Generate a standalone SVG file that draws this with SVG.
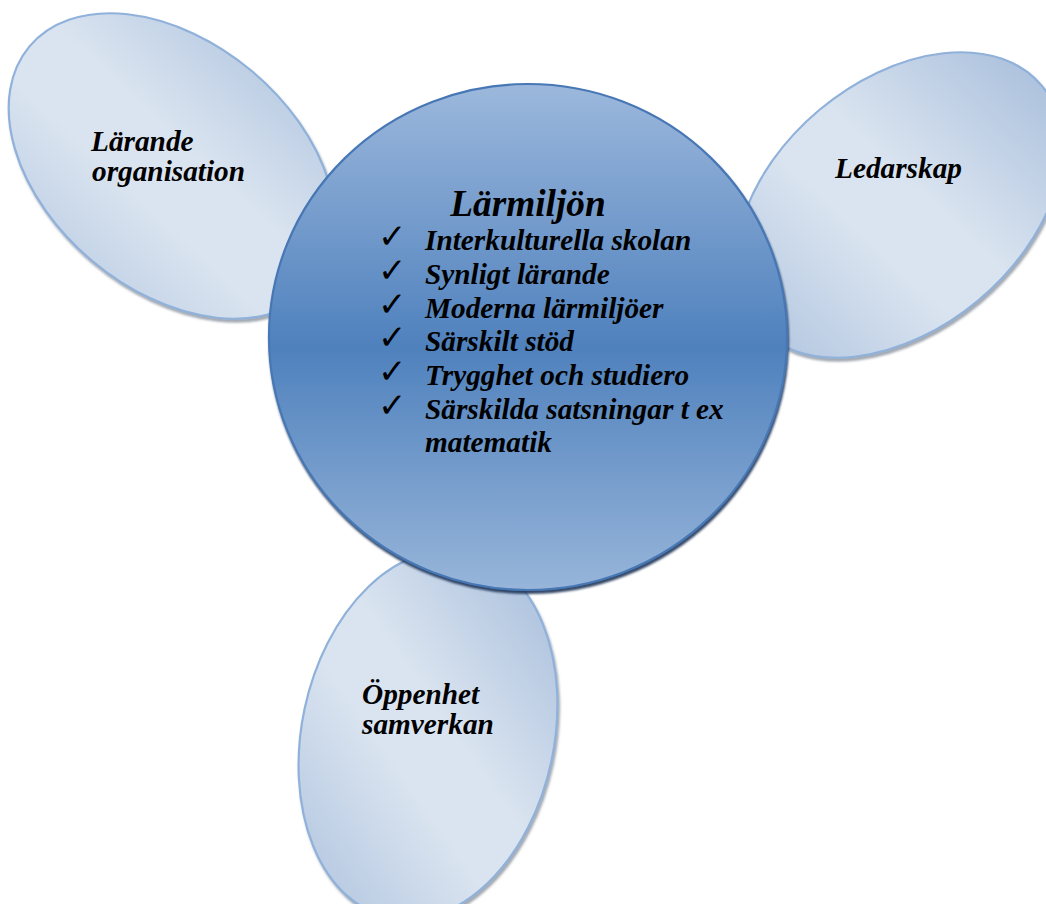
<svg xmlns="http://www.w3.org/2000/svg" width="1046" height="904" viewBox="0 0 1046 904">
  <style>
    .petal { fill: url(#petalFill); stroke: #8fb1da; stroke-width: 2.2; filter: url(#petalShadow); }
    .hub { fill: url(#hubFill); stroke: #4677b5; stroke-width: 2.2; filter: url(#hubShadow); }
    .label { font-family: "Liberation Serif", "Times New Roman", serif; font-weight: bold; font-style: italic; font-size: 29.3px; fill: #000; }
    .title { font-size: 37.3px; }
    .tick { font-family: "DejaVu Sans", sans-serif; font-size: 34px; fill: #000; }
  </style>
  <defs>
    <linearGradient id="petalFill" x1="1" y1="0" x2="0" y2="1">
      <stop offset="0" stop-color="#a4bbda"/>
      <stop offset="0.45" stop-color="#dae4f0"/>
      <stop offset="0.6" stop-color="#dae4f0"/>
      <stop offset="1" stop-color="#adc2de"/>
    </linearGradient>
    <linearGradient id="hubFill" x1="0" y1="0" x2="0" y2="1">
      <stop offset="0" stop-color="#9cb8dc"/>
      <stop offset="0.52" stop-color="#4f81bd"/>
      <stop offset="1" stop-color="#97b5d9"/>
    </linearGradient>
    <filter id="petalShadow" x="-10%" y="-10%" width="125%" height="125%">
      <feDropShadow dx="1.5" dy="3" stdDeviation="1.2" flood-color="#5a6474" flood-opacity="0.55"/>
    </filter>
    <filter id="hubShadow" x="-10%" y="-10%" width="125%" height="125%">
      <feDropShadow dx="1" dy="3" stdDeviation="1" flood-color="#1c3457" flood-opacity="0.9"/>
    </filter>
  </defs>

  <!-- outer petals, drawn first so the hub sits on top -->
  <g id="node-larande-organisation">
    <path class="petal" d="M29.5,46.4 A186,124 40 1 0 314.5,285.6 A186,124 40 1 0 29.5,46.4 Z"/>
    <text class="label" x="91" y="151">Lärande</text>
    <text class="label" x="92" y="181">organisation</text>
  </g>

  <g id="node-ledarskap">
    <path class="petal" d="M756.5,324.6 A186,124 -40 1 0 1041.5,85.4 A186,124 -40 1 0 756.5,324.6 Z"/>
    <text class="label" x="835" y="178">Ledarskap</text>
  </g>

  <g id="node-oppenhet-samverkan">
    <path class="petal" d="M466.7,553.1 A186,124 -78 1 0 389.3,916.9 A186,124 -78 1 0 466.7,553.1 Z"/>
    <text class="label" x="362" y="704">Öppenhet</text>
    <text class="label" x="362" y="734">samverkan</text>
  </g>

  <!-- central hub with checklist -->
  <g id="node-larmiljon">
    <ellipse class="hub" cx="528" cy="337" rx="259" ry="253"/>
    <text class="label title" x="528" y="216" text-anchor="middle">Lärmiljön</text>
    <g class="tick">
      <text x="378" y="248">✓</text>
      <text x="378" y="282">✓</text>
      <text x="378" y="316">✓</text>
      <text x="378" y="349">✓</text>
      <text x="378" y="383">✓</text>
      <text x="378" y="417">✓</text>
    </g>
    <text class="label" x="425" y="250">Interkulturella skolan</text>
    <text class="label" x="425" y="284">Synligt lärande</text>
    <text class="label" x="425" y="318">Moderna lärmiljöer</text>
    <text class="label" x="425" y="351">Särskilt stöd</text>
    <text class="label" x="425" y="385">Trygghet och studiero</text>
    <text class="label" x="425" y="419">Särskilda satsningar t ex</text>
    <text class="label" x="425" y="452">matematik</text>
  </g>
</svg>
